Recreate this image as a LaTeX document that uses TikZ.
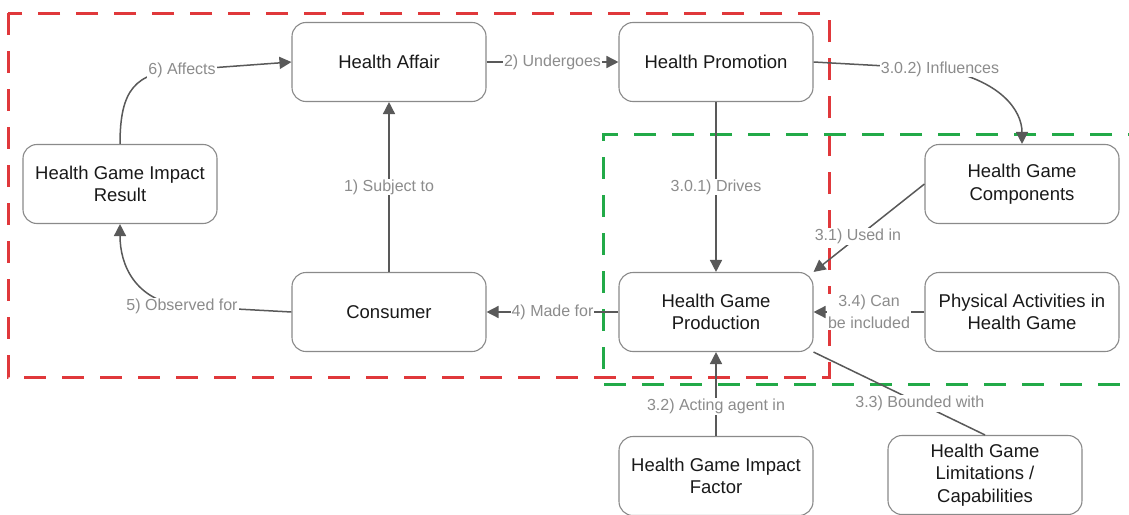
\documentclass[tikz,border=0pt]{standalone}
\usepackage{fontspec}
\setmainfont{Liberation Sans}
\usetikzlibrary{arrows.meta}

\definecolor{boxgray}{HTML}{8A8A8A}
\definecolor{linkgray}{HTML}{595959}
\definecolor{lblgray}{HTML}{8C8C8C}
\definecolor{redline}{HTML}{E0383B}
\definecolor{greenline}{HTML}{22AA48}

\tikzset{
	box/.style={draw=boxgray, line width=1.1pt, rounded corners=14pt, minimum width=194pt, minimum height=79pt, align=center, text=black!90, font=\fontsize{18.5}{22.5}\selectfont},
	link/.style={draw=linkgray, line width=1.5pt, -{Triangle[length=12pt,width=12pt]}},
	plain/.style={draw=linkgray, line width=1.5pt},
	lbl/.style={fill=white, text=lblgray, inner sep=1pt, align=center, font=\fontsize{16}{22}\selectfont},
	reddash/.style={draw=redline, line width=3pt, dash pattern=on 22pt off 16pt},
	greendash/.style={draw=greenline, line width=3pt, dash pattern=on 22pt off 16pt}
}

\begin{document}
\begin{tikzpicture}[x=1pt,y=-1pt]
	\useasboundingbox (0,0) rectangle (1129,514);
	\fill[white] (0,0) rectangle (1129,514);
	% groups
	\draw[reddash] (8,13) rectangle (829,377);
	\begin{scope}
		\clip (0,0) rectangle (1129,514);
		\draw[greendash] (1150,134) -- (603,134) -- (603,384) -- (1150,384);
	\end{scope}
	% concepts
	\node[box] (ha) at (389,62) {Health Affair};
	\node[box] (hp) at (716,62) {Health Promotion};
	\node[box] (hgir) at (120,184) {Health Game Impact\\Result};
	\node[box] (cons) at (389,312) {Consumer};
	\node[box] (prod) at (716,312) {Health Game\\Production};
	\node[box] (hgc) at (1022,184) {Health Game\\Components};
	\node[box] (phys) at (1022,312) {Physical Activities in\\Health Game};
	\node[box] (hgif) at (716,476) {Health Game Impact\\Factor};
	\node[box] (hgl) at (985,475) {Health Game\\Limitations /\\Capabilities};
	% relations
	\draw[link] (cons) -- node[lbl] (l1) {1) Subject to} (ha);
	\draw[link] (ha) -- node[lbl] (l2) {2) Undergoes} (hp);
	\draw[link] (hp) -- node[lbl] (l301) {3.0.1) Drives} (prod);
	\draw[link] (hp.east) -- (940,69) node[lbl] (l302) {3.0.2) Influences} .. controls (1000,80) and (1022,110) .. (hgc.north);
	\draw[link] (hgc.west) -- node[lbl, pos=0.6] (l31) {3.1) Used in} (prod.north east);
	\draw[link] (hgif) -- node[lbl, pos=0.35] (l32) {3.2) Acting agent in} (prod);
	\draw[plain] (prod.south east) -- node[lbl, pos=0.62] (l33) {3.3) Bounded with} (hgl.north);
	\draw[link] (phys) -- node[lbl] (l34) {3.4) Can\\be included} (prod);
	\draw[link] (prod) -- node[lbl] (l4) {4) Made for} (cons);
	\draw[link] (cons.west) -- (182,306) node[lbl] (l5) {5) Observed for} .. controls (135,300) and (120,265) .. (hgir.south);
	\draw[link] (hgir.north) .. controls (120,90) and (135,72) .. (182,70) node[lbl] (l6) {6) Affects} -- (ha.west);
\end{tikzpicture}
\end{document}
